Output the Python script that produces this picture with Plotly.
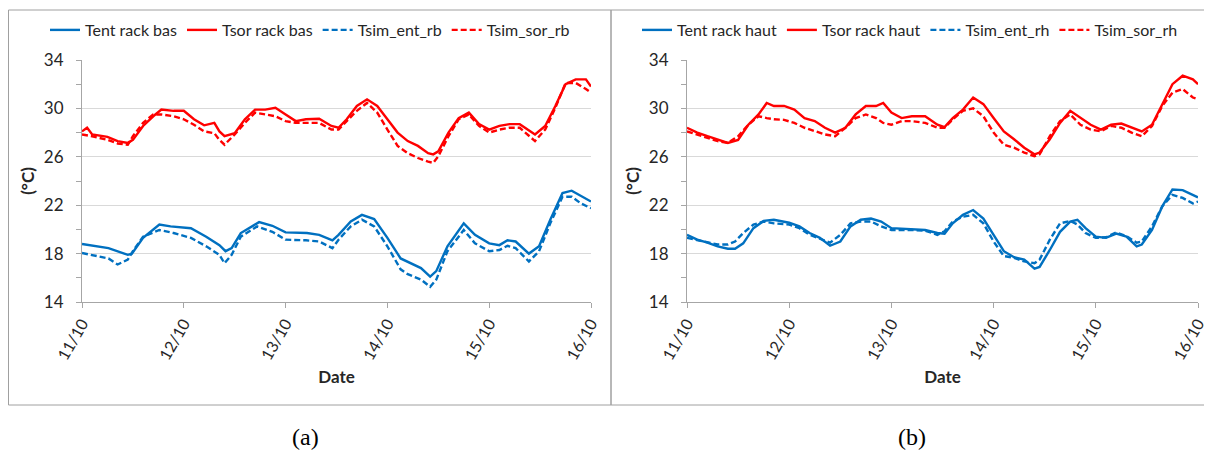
import plotly.graph_objects as go

# ---------------- data (time in days from 11/10 00:00) ----------------
tick_days = [0, 1, 2, 3, 4, 5]
tick_labels = ["11/10", "12/10", "13/10", "14/10", "15/10", "16/10"]
y_ticks = [14, 18, 22, 26, 30, 34]

# Panel (a) — rack bas
ta_ent = [0, 0.26, 0.45, 0.49, 0.6, 0.76, 0.87, 1.07, 1.22, 1.35, 1.41, 1.47, 1.56, 1.74, 1.87,
          2.0, 2.21, 2.33, 2.46, 2.52, 2.64, 2.75, 2.87, 3.0, 3.13, 3.33, 3.42, 3.48, 3.59, 3.75,
          3.86, 4.0, 4.1, 4.18, 4.26, 4.39, 4.49, 4.6, 4.72, 4.81, 5.0]
tent_rack_bas = [18.8, 18.45, 17.9, 18.0, 19.3, 20.4, 20.25, 20.1, 19.4, 18.7, 18.2, 18.45, 19.7,
                 20.6, 20.3, 19.75, 19.7, 19.55, 19.1, 19.55, 20.65, 21.2, 20.85, 19.3, 17.6, 16.8,
                 16.1, 16.55, 18.6, 20.5, 19.55, 18.85, 18.7, 19.1, 19.0, 18.0, 18.6, 20.8, 23.0,
                 23.2, 22.3]

ta_sim_ent = [0, 0.26, 0.35, 0.45, 0.5, 0.6, 0.76, 0.9, 1.07, 1.22, 1.35, 1.4, 1.47, 1.56, 1.72,
              1.87, 2.0, 2.2, 2.33, 2.46, 2.52, 2.64, 2.75, 2.87, 3.0, 3.13, 3.2, 3.33, 3.42, 3.48,
              3.59, 3.75, 3.86, 4.0, 4.1, 4.18, 4.26, 4.39, 4.49, 4.6, 4.72, 4.81, 4.9, 5.0]
tsim_ent_rb = [18.05, 17.6, 17.1, 17.5, 18.2, 19.4, 19.95, 19.7, 19.3, 18.6, 17.9, 17.2, 17.9,
               19.4, 20.25, 19.8, 19.15, 19.1, 19.0, 18.45, 19.15, 20.25, 20.8, 20.25, 18.6, 16.7,
               16.3, 15.85, 15.25, 15.85, 18.2, 19.95, 18.85, 18.2, 18.3, 18.65, 18.45, 17.35,
               18.2, 20.5, 22.7, 22.7, 22.15, 21.75]

ta_sor = [0, 0.05, 0.1, 0.25, 0.35, 0.45, 0.5, 0.6, 0.7, 0.78, 0.9, 1.0, 1.1, 1.2, 1.3, 1.35, 1.4,
          1.5, 1.6, 1.7, 1.8, 1.9, 2.0, 2.1, 2.2, 2.33, 2.45, 2.52, 2.6, 2.7, 2.8, 2.9, 3.0, 3.1,
          3.2, 3.3, 3.4, 3.45, 3.5, 3.6, 3.7, 3.8, 3.9, 4.0, 4.1, 4.2, 4.3, 4.4, 4.45, 4.55, 4.65,
          4.75, 4.85, 4.95, 5.0]
tsor_rack_bas = [28.1, 28.4, 27.85, 27.65, 27.3, 27.15, 27.4, 28.55, 29.35, 29.9, 29.8, 29.8,
                 29.1, 28.6, 28.8, 28.1, 27.7, 27.95, 29.1, 29.9, 29.9, 30.05, 29.5, 28.95, 29.1,
                 29.15, 28.55, 28.4, 29.1, 30.2, 30.75, 30.2, 29.1, 28.0, 27.3, 26.9, 26.3, 26.2,
                 26.45, 28.0, 29.2, 29.65, 28.7, 28.25, 28.55, 28.7, 28.7, 28.1, 27.85, 28.55,
                 30.2, 32.0, 32.4, 32.4, 31.8]

ta_sim_sor = [0, 0.1, 0.25, 0.35, 0.45, 0.5, 0.6, 0.7, 0.78, 0.9, 1.0, 1.1, 1.2, 1.3, 1.35, 1.4,
              1.5, 1.6, 1.7, 1.8, 1.9, 2.0, 2.1, 2.2, 2.33, 2.45, 2.52, 2.6, 2.7, 2.8, 2.9, 3.0,
              3.1, 3.2, 3.3, 3.4, 3.45, 3.5, 3.6, 3.7, 3.8, 3.9, 4.0, 4.1, 4.2, 4.3, 4.4, 4.45,
              4.55, 4.65, 4.75, 4.85, 4.95, 5.0]
tsim_sor_rb = [27.85, 27.7, 27.4, 27.1, 27.0, 27.7, 28.8, 29.5, 29.5, 29.35, 29.1, 28.65, 28.1,
               27.95, 27.4, 27.0, 27.85, 28.8, 29.65, 29.5, 29.35, 28.95, 28.8, 28.8, 28.8, 28.25,
               28.25, 28.95, 29.8, 30.45, 29.65, 28.25, 26.9, 26.3, 25.9, 25.6, 25.5, 26.05, 27.7,
               29.1, 29.5, 28.55, 28.0, 28.25, 28.4, 28.4, 27.7, 27.3, 28.25, 30.05, 32.1, 32.1,
               31.6, 31.3]

# Panel (b) — rack haut
tb_ent = [0, 0.1, 0.2, 0.3, 0.4, 0.47, 0.55, 0.65, 0.75, 0.85, 1.0, 1.1, 1.2, 1.3, 1.4, 1.5, 1.6,
          1.7, 1.8, 1.9, 2.0, 2.2, 2.33, 2.45, 2.52, 2.6, 2.7, 2.8, 2.9, 3.0, 3.1, 3.2, 3.3, 3.4,
          3.45, 3.55, 3.65, 3.75, 3.82, 3.9, 4.0, 4.1, 4.2, 4.3, 4.4, 4.45, 4.55, 4.65, 4.75, 4.85,
          4.95, 5.0]
tent_rack_haut = [19.55, 19.15, 18.9, 18.6, 18.4, 18.4, 18.85, 20.1, 20.7, 20.8, 20.55, 20.25,
                  19.7, 19.3, 18.65, 19.0, 20.25, 20.8, 20.9, 20.65, 20.1, 20.0, 19.95, 19.7,
                  19.65, 20.5, 21.2, 21.6, 20.9, 19.55, 18.2, 17.7, 17.5, 16.75, 16.9, 18.3, 19.8,
                  20.65, 20.8, 20.1, 19.4, 19.3, 19.65, 19.4, 18.6, 18.75, 19.95, 21.9, 23.3,
                  23.25, 22.85, 22.65]
tsim_ent_rh = [19.3, 19.1, 18.9, 18.75, 18.75, 19.0, 19.7, 20.4, 20.65, 20.5, 20.4, 20.1, 19.55,
               19.2, 18.9, 19.55, 20.5, 20.65, 20.65, 20.25, 19.95, 19.95, 19.9, 19.55, 19.85,
               20.65, 21.05, 21.2, 20.5, 19.0, 17.8, 17.65, 17.35, 17.2, 17.5, 19.15, 20.5, 20.7,
               20.4, 19.7, 19.3, 19.35, 19.75, 19.45, 18.9, 19.0, 20.25, 21.9, 22.85, 22.6,
               22.15, 22.3]

tb_sor = [0, 0.1, 0.2, 0.3, 0.4, 0.5, 0.6, 0.7, 0.78, 0.85, 0.95, 1.05, 1.15, 1.25, 1.35, 1.45,
          1.55, 1.65, 1.75, 1.85, 1.92, 2.0, 2.1, 2.2, 2.33, 2.45, 2.52, 2.6, 2.7, 2.8, 2.9, 3.0,
          3.1, 3.2, 3.3, 3.4, 3.45, 3.55, 3.65, 3.75, 3.85, 3.95, 4.05, 4.15, 4.25, 4.35, 4.45,
          4.55, 4.65, 4.75, 4.85, 4.95, 5.0]
tsor_rack_haut = [28.4, 28.0, 27.7, 27.45, 27.15, 27.4, 28.65, 29.5, 30.45, 30.2, 30.2, 29.9,
                  29.2, 28.95, 28.4, 28.0, 28.4, 29.5, 30.2, 30.2, 30.45, 29.65, 29.2, 29.35,
                  29.35, 28.65, 28.45, 29.2, 29.9, 30.9, 30.35, 29.2, 28.1, 27.45, 26.75, 26.2,
                  26.35, 27.45, 28.8, 29.8, 29.2, 28.65, 28.25, 28.65, 28.75, 28.4, 28.1, 28.65,
                  30.35, 32.0, 32.7, 32.4, 32.0]
tsim_sor_rh = [28.1, 27.85, 27.55, 27.3, 27.15, 27.7, 28.65, 29.35, 29.2, 29.1, 29.05, 28.8,
               28.4, 28.1, 27.85, 27.7, 28.4, 29.2, 29.5, 29.2, 28.8, 28.65, 28.95, 28.95, 28.8,
               28.4, 28.4, 29.1, 29.8, 30.0, 29.35, 28.0, 27.0, 26.75, 26.35, 26.05, 26.2, 27.7,
               28.95, 29.5, 28.65, 28.25, 28.1, 28.55, 28.4, 28.0, 27.7, 28.55, 30.2, 31.3, 31.6,
               30.9, 30.75]

# ---------------- styling ----------------
OFF = 8                      # page body margin of the rendered html
W, H = 1212 - OFF, 450 - OFF
BLUE = "#0070C0"
RED = "#FF0000"
LW = 2.4
DASH = "6px,3px"
FONT = "Lato, 'Open Sans', sans-serif"
TXT = "#262626"

def px_x(p):
    return (p - OFF) / W

def px_y(p):
    return 1 - (p - OFF) / H

fig = go.Figure()

def add(x, y, name, color, dash, xa, ya, legend):
    fig.add_trace(go.Scatter(
        x=x, y=y, name=name, mode="lines",
        line=dict(color=color, width=LW, dash=dash),
        xaxis=xa, yaxis=ya, legend=legend))

add(ta_ent, tent_rack_bas, "Tent rack bas", BLUE, "solid", "x", "y", "legend")
add(ta_sor, tsor_rack_bas, "Tsor rack bas", RED, "solid", "x", "y", "legend")
add(ta_sim_ent, tsim_ent_rb, "Tsim_ent_rb", BLUE, DASH, "x", "y", "legend")
add(ta_sim_sor, tsim_sor_rb, "Tsim_sor_rb", RED, DASH, "x", "y", "legend")

add(tb_ent, tent_rack_haut, "Tent rack haut", BLUE, "solid", "x2", "y2", "legend2")
add(tb_sor, tsor_rack_haut, "Tsor rack haut", RED, "solid", "x2", "y2", "legend2")
add(tb_ent, tsim_ent_rh, "Tsim_ent_rh", BLUE, DASH, "x2", "y2", "legend2")
add(tb_sor, tsim_sor_rh, "Tsim_sor_rh", RED, DASH, "x2", "y2", "legend2")

ydom = [px_y(302), px_y(60)]

def xaxis(dom, anchor):
    return dict(domain=dom, anchor=anchor, range=[0, 5], tickvals=tick_days, ticktext=tick_labels,
                tickangle=-60, ticks="outside", ticklen=5, tickcolor="#a6a6a6",
                showline=True, linecolor="#a6a6a6", linewidth=1, showgrid=False, zeroline=False,
                automargin=False,
                tickfont=dict(family=FONT, size=16, color=TXT),
                title=dict(text="<b>Date</b>", font=dict(family=FONT, size=17, color=TXT), standoff=8))

def yaxis(anchor):
    return dict(domain=ydom, anchor=anchor, range=[14, 34], tickvals=y_ticks,
                ticks="outside", ticklen=5, tickcolor="#a6a6a6",
                minor=dict(dtick=2, tick0=14, ticks="outside", ticklen=5, tickcolor="#a6a6a6", showgrid=False),
                showline=True, linecolor="#a6a6a6", linewidth=1,
                showgrid=True, gridcolor="#d9d9d9", gridwidth=1, zeroline=False,
                automargin=False,
                ticklabelstandoff=9,
                tickfont=dict(family=FONT, size=17, color=TXT),
                title=dict(text="<b>(°C)</b>", font=dict(family=FONT, size=17, color=TXT), standoff=4))

legend_common = dict(orientation="h", xanchor="center", yanchor="middle", y=px_y(30),
                     font=dict(family=FONT, size=16, color=TXT), bgcolor="rgba(0,0,0,0)",
                     itemwidth=30, tracegroupgap=0)

fig.update_layout(
    width=W, height=H, margin=dict(l=0, r=0, t=0, b=0, autoexpand=False),
    paper_bgcolor="white", plot_bgcolor="white", showlegend=True,
    xaxis=xaxis([px_x(82), px_x(591)], "y"),
    yaxis=yaxis("x"),
    xaxis2=xaxis([px_x(687), px_x(1198)], "y2"),
    yaxis2=yaxis("x2"),
    legend=dict(x=px_x(310), **legend_common),
    legend2=dict(x=px_x(910), **legend_common),
    shapes=[
        dict(type="rect", xref="paper", yref="paper", x0=px_x(8.5), x1=px_x(611), y0=px_y(405), y1=px_y(10),
             line=dict(color="#a0a0a0", width=1)),
        dict(type="rect", xref="paper", yref="paper", x0=px_x(611), x1=px_x(1211.5), y0=px_y(405), y1=px_y(10),
             line=dict(color="#a0a0a0", width=1)),
    ],
    annotations=[
        dict(text="(a)", x=px_x(305), y=px_y(437), xref="paper", yref="paper", showarrow=False,
             xanchor="center", yanchor="middle",
             font=dict(family="'Liberation Serif', 'Times New Roman', serif", size=24, color="black")),
        dict(text="(b)", x=px_x(912), y=px_y(437), xref="paper", yref="paper", showarrow=False,
             xanchor="center", yanchor="middle",
             font=dict(family="'Liberation Serif', 'Times New Roman', serif", size=24, color="black")),
    ],
)

fig.write_html("out.html")
